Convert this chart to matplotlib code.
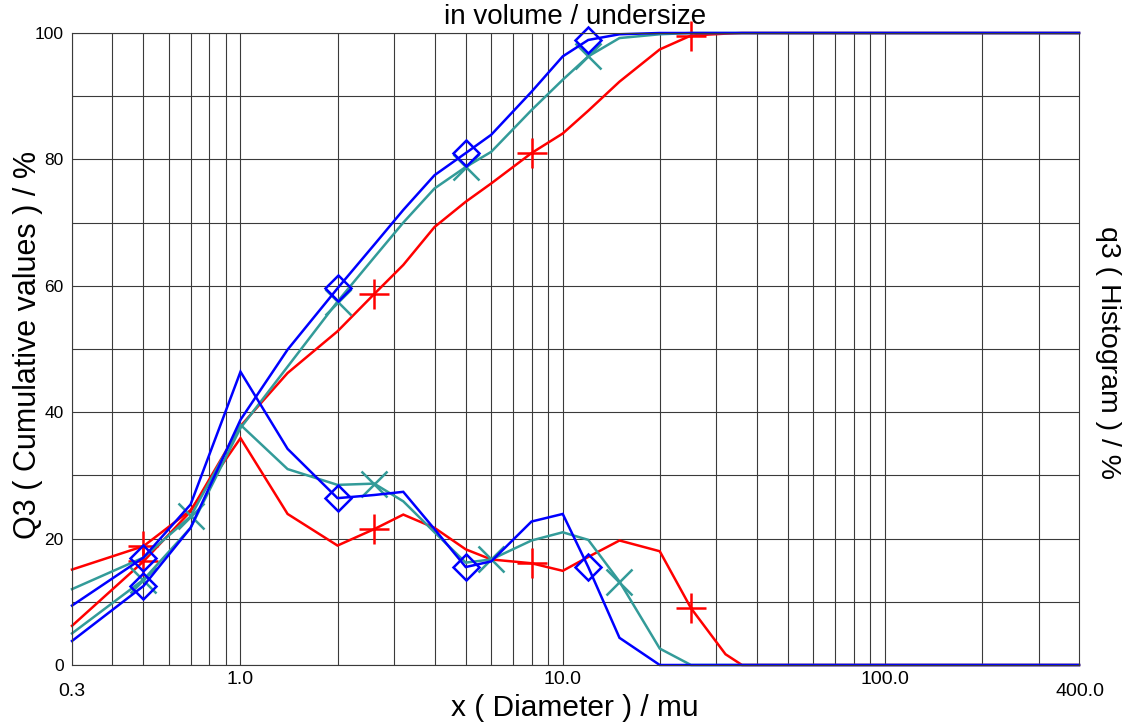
import matplotlib
matplotlib.use("Agg")
import matplotlib.pyplot as plt
from matplotlib.ticker import FixedLocator, NullFormatter, MultipleLocator

plt.rcParams['font.family'] = ['Liberation Sans', 'DejaVu Sans']

# size classes (µm)
x = [0.3, 0.5, 0.7, 1.0, 1.4, 2.0, 2.6, 3.2, 4.0, 5.0, 6.0, 8.0, 10, 12, 15, 20, 25, 32, 36, 400]

red_cum = [6.2, 16.4, 24.3, 37.8, 46.2, 52.8, 58.7, 63.3, 69.3, 73.3, 76.2, 81.0, 84.1, 87.7, 92.3, 97.4, 99.6, 99.9, 100, 100]
red_hist = [15.1, 18.8, 24.5, 35.9, 23.9, 18.9, 21.5, 23.8, 21.7, 18.3, 16.7, 16.1, 14.9, 17.1, 19.7, 18.0, 9.0, 1.7, 0, 0]

teal_cum = [5.0, 13.5, 21.7, 37.5, 47.2, 57.5, 64.5, 70.0, 75.4, 78.8, 81.2, 87.8, 92.6, 96.3, 99.2, 99.8, 100, 100, 100, 100]
teal_hist = [12.0, 17.0, 23.5, 38.0, 31.0, 28.5, 28.7, 25.9, 21.0, 16.2, 16.7, 19.7, 21.0, 19.8, 13.2, 2.6, 0, 0, 0, 0]

blue_cum = [3.8, 12.5, 21.7, 38.8, 49.9, 59.6, 66.5, 72.0, 77.5, 81.0, 83.9, 90.7, 96.3, 98.9, 99.8, 100, 100, 100, 100, 100]
blue_hist = [9.4, 17.0, 25.4, 46.4, 34.2, 26.4, 26.9, 27.4, 21.5, 15.5, 16.4, 22.7, 23.9, 15.5, 4.3, 0, 0, 0, 0, 0]

red_marks = [1, 6, 11, 16]
teal_cum_marks = [1, 5, 9, 13]
teal_hist_marks = [2, 6, 10, 14]
blue_marks = [1, 5, 9, 13]

xtick_vals = [1, 10, 100]
xtick_labels = ["1.0", "10.0", "100.0"]
x_edge_labels = ["0.3", "400.0"]
ytick_vals = [0, 20, 40, 60, 80, 100]

RED = '#FF0000'
TEAL = '#339B99'
BLUE = '#0000FF'

W, H = 1136, 726
fig = plt.figure(figsize=(W / 100, H / 100), dpi=100)
ax = fig.add_axes([72 / W, 1 - 665 / H, (1079 - 72) / W, (665 - 33) / H])
ax.set_xscale('log')
ax.set_xlim(0.3, 400)
ax.set_ylim(0, 100)

# grid
ax.xaxis.set_major_locator(FixedLocator(xtick_vals))
minors = []
for dec in [0.1, 1, 10, 100]:
    for m in range(1, 10):
        v = dec * m
        if 0.3 < v < 400 and v not in xtick_vals:
            minors.append(v)
ax.xaxis.set_minor_locator(FixedLocator(minors))
ax.xaxis.set_minor_formatter(NullFormatter())
ax.set_xticklabels(xtick_labels)
ax.yaxis.set_major_locator(FixedLocator(ytick_vals))
ax.yaxis.set_minor_locator(MultipleLocator(10))
ax.grid(True, which='both', color='#3a3a3a', lw=0.8)
ax.set_axisbelow(True)
ax.tick_params(which='both', length=0)
ax.tick_params(axis='x', labelsize=14, pad=4)
ax.tick_params(axis='y', labelsize=12.5, pad=6)
for s in ax.spines.values():
    s.set_color('#3a3a3a')
    s.set_linewidth(0.8)

lw = 1.8
mew = 1.8
series = [
    (red_hist, RED, '+', 21, red_marks),
    (red_cum, RED, '+', 21, red_marks),
    (teal_hist, TEAL, 'x', 19, teal_hist_marks),
    (teal_cum, TEAL, 'x', 19, teal_cum_marks),
    (blue_hist, BLUE, 'D', 13, blue_marks),
    (blue_cum, BLUE, 'D', 13, blue_marks),
]
for ys, c, mk, ms, me in series:
    ax.plot(x, ys, color=c, lw=lw, marker=mk, ms=ms, mew=mew, mfc='none',
            mec=c, markevery=me, clip_on=False, solid_joinstyle='miter')

# axis-end labels, placed a bit lower than the decade labels
fig.text(72 / W, 1 - 691 / H, x_edge_labels[0], ha='center', va='center', fontsize=14)
fig.text(1080 / W, 1 - 691 / H, x_edge_labels[1], ha='center', va='center', fontsize=14)

fig.text(575 / W, 1 - 17 / H, "in volume / undersize", ha='center', va='center', fontsize=20)
fig.text(575 / W, 1 - 708 / H, "x ( Diameter ) / mu", ha='center', va='center', fontsize=21.5)
fig.text(28 / W, 1 - 345 / H, "Q3 ( Cumulative values ) / %", ha='center', va='center',
         rotation=90, fontsize=22)
fig.text(1108 / W, 1 - 352 / H, "q3 ( Histogram ) / %", ha='center', va='center',
         rotation=-90, fontsize=20.5)

fig.savefig("out.png", dpi=100)
